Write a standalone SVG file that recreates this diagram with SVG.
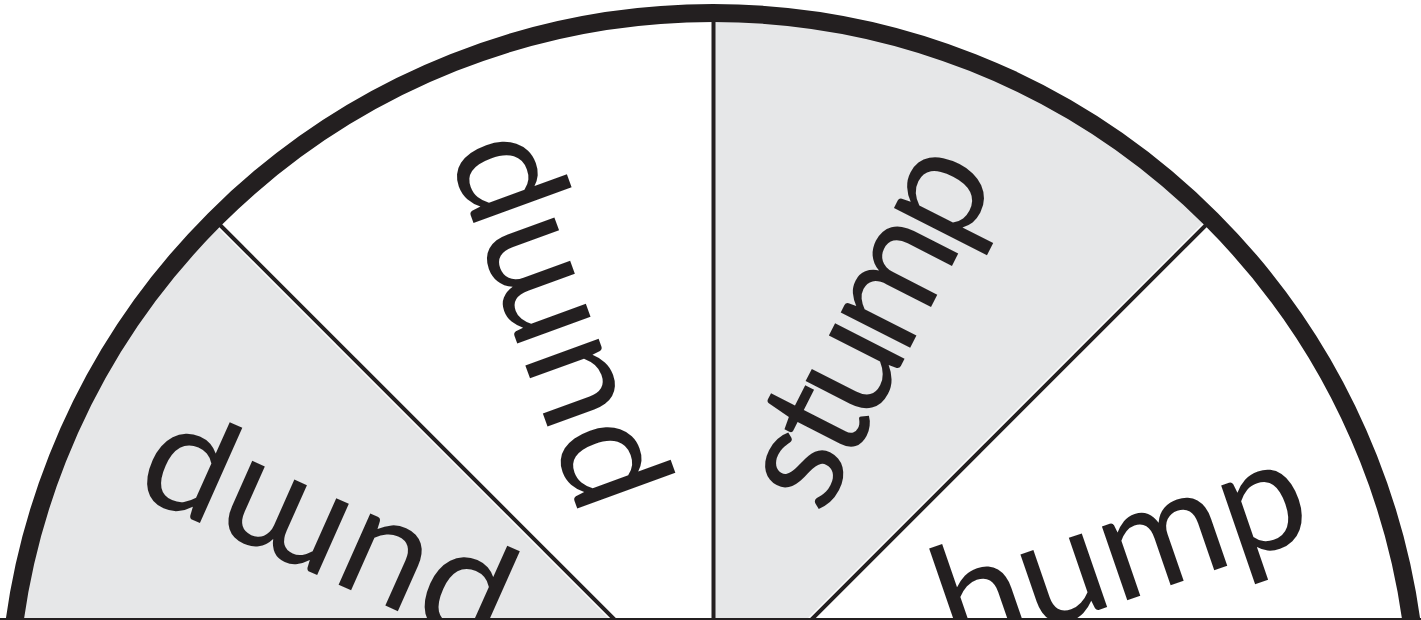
<svg xmlns="http://www.w3.org/2000/svg" width="1421" height="620" viewBox="0 0 1421 620">
<style>
.g{fill:#E6E7E8}
.w{fill:#FFFFFF}
.word{font-family:Lato,"Liberation Sans",sans-serif;font-weight:400;font-size:154px;fill:#231F20;text-anchor:middle}
.spokeW{stroke:#FFFFFF;stroke-width:7;fill:none}
.spoke{stroke:#231F20;stroke-width:4;fill:none}
</style>
<rect x="0" y="0" width="1421" height="620" fill="#FFFFFF"/>
<g id="sector-1">
<path class="g" d="M713,718 L8,718 A705,705 0 0 1 214.5,219.5 Z"/>
<text class="word" transform="translate(325,536) rotate(-156)" y="39" textLength="390" lengthAdjust="spacing">pump</text>
</g>
<g id="sector-2">
<path class="w" d="M713,718 L214.5,219.5 A705,705 0 0 1 713,13 Z"/>
<text class="word" transform="translate(551,322) rotate(-110)" y="39" textLength="390" lengthAdjust="spacing">pump</text>
</g>
<g id="sector-3">
<path class="g" d="M713,718 L713,13 A705,705 0 0 1 1211.5,219.5 Z"/>
<text class="word" transform="translate(876,329) rotate(-63)" y="39" textLength="383" lengthAdjust="spacing">stump</text>
</g>
<g id="sector-4">
<path class="w" d="M713,718 L1211.5,219.5 A705,705 0 0 1 1418,718 Z"/>
<text class="word" transform="translate(1124,560) rotate(-19)" y="39" textLength="383" lengthAdjust="spacing">hump</text>
</g>
<g id="connectors">
<line class="spokeW" x1="713" y1="718" x2="214.5" y2="219.5"/>
<line class="spokeW" x1="713" y1="718" x2="1211.5" y2="219.5"/>
<line class="spoke" x1="713" y1="718" x2="214.5" y2="219.5"/>
<line class="spoke" x1="713" y1="718" x2="1211.5" y2="219.5"/>
<line class="spoke" x1="713.5" y1="718" x2="713.5" y2="13"/>
</g>
<g id="rim">
<circle cx="713" cy="718" r="705" fill="none" stroke="#231F20" stroke-width="18"/>
<rect x="0" y="618" width="1421" height="2" fill="#231F20"/>
</g>
</svg>
